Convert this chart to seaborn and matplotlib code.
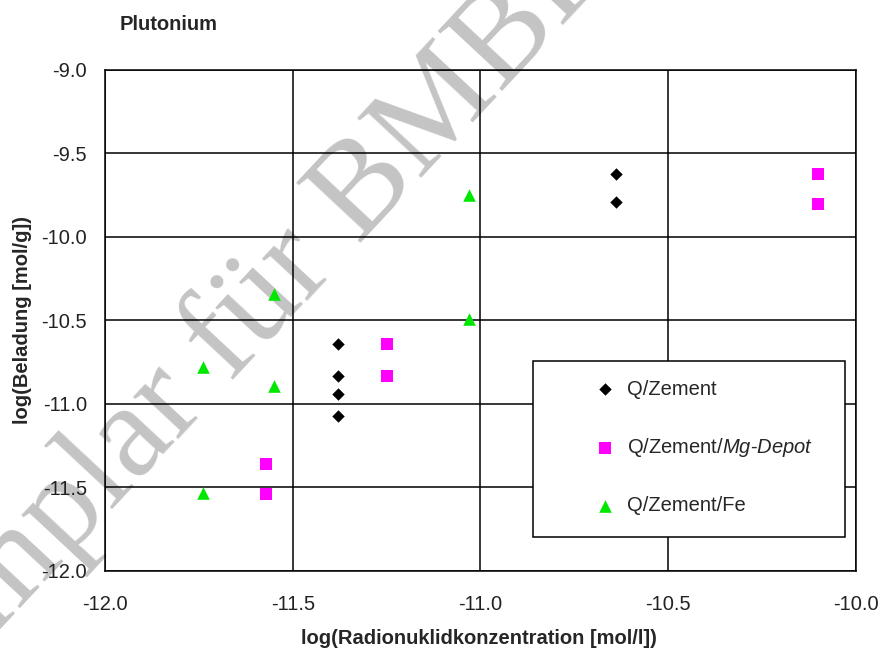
import matplotlib
matplotlib.use('Agg')
import matplotlib.pyplot as plt
import seaborn as sns
from matplotlib.patches import Rectangle

# Daten
zement_x = [-11.38, -11.38, -11.38, -11.38, -10.64, -10.64]
zement_y = [-10.64, -10.83, -10.94, -11.07, -9.62, -9.79]

mg_x = [-11.25, -11.25, -11.57, -11.57, -10.10, -10.10]
mg_y = [-10.64, -10.83, -11.36, -11.54, -9.62, -9.80]

fe_x = [-11.03, -11.03, -11.55, -11.74, -11.55, -11.74]
fe_y = [-9.75, -10.49, -10.34, -10.78, -10.89, -11.53]

x_ticks = [-12.0, -11.5, -11.0, -10.5, -10.0]
y_ticks = [-12.0, -11.5, -11.0, -10.5, -10.0, -9.5, -9.0]

sns.set_style('white')
plt.rcParams['font.family'] = ['Liberation Sans', 'DejaVu Sans']
plt.rcParams['mathtext.fontset'] = 'custom'
plt.rcParams['mathtext.it'] = 'Liberation Sans:italic'
plt.rcParams['mathtext.rm'] = 'Liberation Sans'

fig = plt.figure(figsize=(8.82, 6.51), dpi=100, facecolor='white')
ax = fig.add_axes([0.119, 0.1229, 0.8515, 0.7696])
ax.set_facecolor('none')

# Punkte
sns.scatterplot(x=zement_x, y=zement_y, marker='D', s=40, color='black',
                linewidth=0, ax=ax, label='Q/Zement', zorder=3)
sns.scatterplot(x=mg_x, y=mg_y, marker='s', s=72, color='#ff00ff',
                linewidth=0, ax=ax, label=r'Q/Zement/$\mathit{Mg}$-$\mathit{Depot}$', zorder=3)
sns.scatterplot(x=fe_x, y=fe_y, marker='^', s=82, color='#00e800',
                linewidth=0, ax=ax, label='Q/Zement/Fe', zorder=3)

ax.set_xlim(-12, -10)
ax.set_ylim(-12, -9)
ax.set_xticks(x_ticks)
ax.set_yticks(y_ticks)
ax.set_xticklabels([f'{v:.1f}' for v in x_ticks])
ax.set_yticklabels([f'{v:.1f}' for v in y_ticks])
ax.tick_params(axis='both', length=0, labelsize=14.5, labelcolor='#222222')
ax.tick_params(axis='x', pad=17)
ax.tick_params(axis='y', pad=13)
ax.grid(True, color='black', linewidth=1.1)
ax.set_axisbelow(True)
for sp in ax.spines.values():
    sp.set_color('black')
    sp.set_linewidth(1.1)

ax.set_xlabel('log(Radionuklidkonzentration [mol/l])', fontsize=14.5, fontweight='bold')
ax.set_ylabel('log(Beladung [mol/g])', fontsize=14.5, fontweight='bold')
ax.xaxis.set_label_coords(0.498, -0.115)
ax.yaxis.set_label_coords(-0.097, 0.5)

# Legendenkasten
box = Rectangle((0.5695, 0.0673), 0.4159, 0.3525, transform=ax.transAxes,
                facecolor='white', edgecolor='black', linewidth=1.1, zorder=4)
ax.add_patch(box)
leg = ax.legend(loc='upper left', bbox_to_anchor=(0.653, 0.382), frameon=False,
                fontsize=14.5, handlelength=1.0, handletextpad=0.58,
                labelspacing=1.85, borderpad=0, borderaxespad=0)
leg.set_zorder(5)

fig.text(120 / 882, 1 - 25 / 651, 'Plutonium', fontsize=14.5, fontweight='bold',
         ha='left', va='center')

# Wasserzeichen (hinter dem Diagramm)
fig.text(0.263, 0.416, 'Exemplar für BMBF', rotation=47, fontsize=96,
         family='Liberation Serif', color='#c4c4c4',
         ha='center', va='baseline', rotation_mode='anchor', zorder=-1)

fig.savefig('out.png', dpi=100, facecolor='white')
